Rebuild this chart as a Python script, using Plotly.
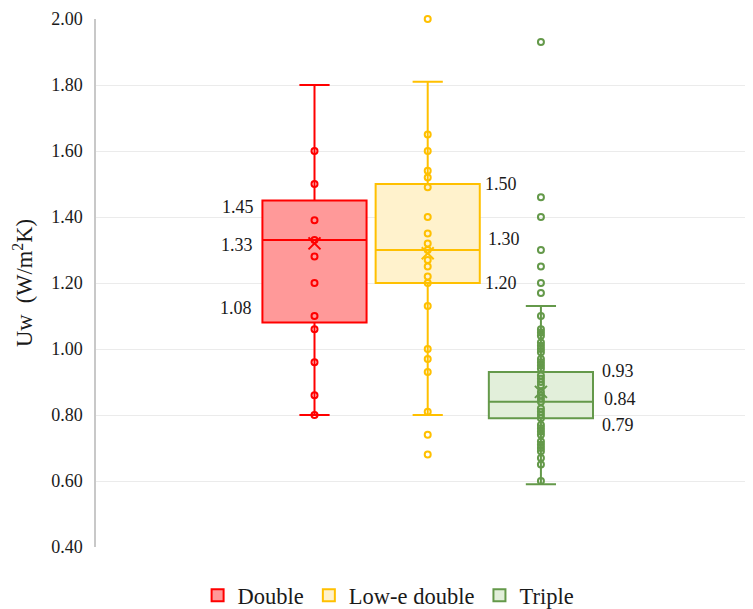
import plotly.graph_objects as go

# ---------------- data ----------------
categories = ["Double", "Low-e double", "Triple"]
q1 = [1.08, 1.20, 0.79]
median = [1.33, 1.30, 0.84]
q3 = [1.45, 1.50, 0.93]
lower_whisker = [0.80, 0.80, 0.59]
upper_whisker = [1.80, 1.81, 1.13]
mean = [1.32, 1.29, 0.87]

double_points = [1.60, 1.50, 1.39, 1.33, 1.28, 1.20, 1.10, 1.06, 0.96, 0.86, 0.80]
lowe_points = [2.00, 1.65, 1.60, 1.54, 1.52, 1.49, 1.40, 1.35, 1.32, 1.30, 1.27, 1.25,
               1.22, 1.20, 1.13, 1.00, 0.97, 0.93, 0.81, 0.74, 0.68]
triple_points = [1.93, 1.46, 1.40, 1.30, 1.25, 1.20, 1.17, 1.10,
                 1.06, 1.05, 1.04, 1.02, 1.01, 1.00, 0.99, 0.97, 0.96, 0.95, 0.94,
                 0.92, 0.91, 0.90, 0.89, 0.87, 0.86, 0.85, 0.84, 0.82, 0.81, 0.80,
                 0.79, 0.77, 0.76, 0.75, 0.74, 0.72, 0.71, 0.70, 0.69, 0.67,
                 0.65, 0.60]
points = [double_points, lowe_points, triple_points]

y_ticks = [0.40, 0.60, 0.80, 1.00, 1.20, 1.40, 1.60, 1.80, 2.00]

# ---------------- style ----------------
line_colors = ["#FF0000", "#FFC000", "#64994A"]
fill_colors = ["#FF9999", "#FFF2CC", "#E2EFDA"]
FONT = "Liberation Serif, serif"
BOX_W = 0.92
# label placement (side, xshift, yshift for q3, median, q1)
label_side = ["left", "right", "right"]
label_xshift = [[-6, -7, -8], [3, 6, 3], [7, 9, 7]]
label_yshift = [[-6, -5, 15], [0, 11, 0], [1, 3, -7]]

fig = go.Figure()

for i, name in enumerate(categories):
    fig.add_trace(go.Box(
        name=name,
        x=[i],
        q1=[q1[i]], median=[median[i]], q3=[q3[i]],
        lowerfence=[lower_whisker[i]], upperfence=[upper_whisker[i]],
        boxpoints=False,
        width=BOX_W,
        whiskerwidth=0.29,
        fillcolor=fill_colors[i],
        line=dict(color=line_colors[i], width=2),
        showlegend=True,
        hoverinfo="skip",
    ))

for i, name in enumerate(categories):
    fig.add_trace(go.Scatter(
        x=[i] * len(points[i]), y=points[i],
        mode="markers", cliponaxis=False,
        marker=dict(symbol="circle-open", size=6, color=line_colors[i],
                    line=dict(width=2, color=line_colors[i])),
        showlegend=False, hoverinfo="skip",
    ))
    fig.add_trace(go.Scatter(
        x=[i], y=[mean[i]],
        mode="markers", cliponaxis=False,
        marker=dict(symbol="x-thin-open", size=12, color=line_colors[i],
                    line=dict(width=2, color=line_colors[i])),
        showlegend=False, hoverinfo="skip",
    ))

annotations = []
for i in range(len(categories)):
    vals = [q3[i], median[i], q1[i]]
    if label_side[i] == "left":
        xpos = i - BOX_W / 2
        anchor = "right"
    else:
        xpos = i + BOX_W / 2
        anchor = "left"
    for k, v in enumerate(vals):
        annotations.append(dict(
            x=xpos, y=v, xref="x", yref="y",
            text=f"{v:.2f}", showarrow=False,
            xanchor=anchor, yanchor="middle",
            xshift=label_xshift[i][k], yshift=label_yshift[i][k],
            font=dict(family=FONT, size=18, color="#1a1a1a"),
        ))

fig.update_layout(
    width=753, height=609,
    margin=dict(l=88, r=0, t=11, b=68),
    paper_bgcolor="white", plot_bgcolor="white",
    boxmode="overlay",
    font=dict(family=FONT, size=18, color="#1a1a1a"),
    annotations=annotations,
    legend=dict(orientation="h", x=0.44, xanchor="center", y=-0.0925, yanchor="middle",
                font=dict(family=FONT, size=22.5, color="#1a1a1a"),
                itemclick=False, itemdoubleclick=False),
    xaxis=dict(range=[-1.93, 3.944], visible=False, showgrid=False, zeroline=False),
    yaxis=dict(range=[0.40, 2.00], tickvals=y_ticks,
               ticktext=[f"{t:.2f}" for t in y_ticks],
               showgrid=True, gridcolor="#EBEBEB", gridwidth=1,
               zeroline=False, showline=True, linecolor="#C8C8C8", linewidth=1.5,
               ticks="", ticklabelstandoff=8,
               tickfont=dict(family=FONT, size=18, color="#1a1a1a"),
               title=dict(text="Uw  (W/m<sup>2</sup>K)", standoff=12,
                          font=dict(family=FONT, size=22.5, color="#1a1a1a")),
               automargin=False),
)

fig.write_html("out.html")
